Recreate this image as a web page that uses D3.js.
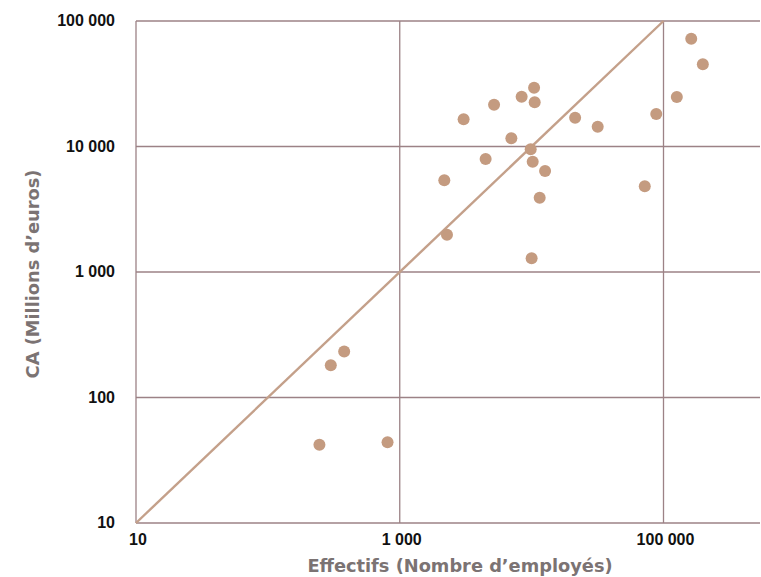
<!DOCTYPE html>
<html>
<head>
<meta charset="utf-8">
<script src="https://cdn.jsdelivr.net/npm/d3@7"></script>
<style>
  html, body { margin: 0; padding: 0; background: #fff; }
  svg { display: block; }
</style>
</head>
<body>
<svg id="chart" width="761" height="577"></svg>
<script>
// Effectifs (employees) and CA (turnover, M€) for each company
const effectifs = [246, 808, 300, 379, 2281, 2177, 3050, 4480, 5190, 7020, 8400, 10440, 10550,
  9840, 10190, 12650, 11510, 10000, 21370, 31700, 72100, 88100, 126200, 162300, 198700];
const chiffreAffaires = [42, 44, 181, 233, 1983, 5380, 16480, 7950, 21530, 11620, 24940, 29420, 22500,
  9500, 7570, 6380, 3910, 1286, 16960, 14380, 4820, 18150, 24790, 72300, 45160];

const xTicks = [10, 1000, 100000];
const yTicks = [10, 100, 1000, 10000, 100000];
const diagonal = [10, 100000];

(function () {
  const svg = d3.select("#chart");
  const plotLeft = 136, plotRight = 760, plotTop = 21, plotBottom = 523;

  const x = d3.scaleLog().domain([10, 100000]).range([plotLeft, 663.5]);
  const y = d3.scaleLog().domain([10, 100000]).range([plotBottom, plotTop]);

  const fmt = v => d3.format(",")(v).replace(/,/g, " ");
  const gridColor = "#9c8286";
  const markColor = "#c49b80";

  // grid
  const g = svg.append("g");
  g.selectAll("line.h").data(yTicks).join("line")
    .attr("x1", plotLeft).attr("x2", plotRight)
    .attr("y1", d => y(d)).attr("y2", d => y(d))
    .attr("stroke", gridColor).attr("stroke-width", 1.3);
  g.selectAll("line.v").data(xTicks).join("line")
    .attr("x1", d => x(d)).attr("x2", d => x(d))
    .attr("y1", plotTop).attr("y2", plotBottom)
    .attr("stroke", gridColor).attr("stroke-width", 1.3);

  // y = x reference line
  svg.append("line")
    .attr("x1", x(diagonal[0])).attr("y1", y(diagonal[0]))
    .attr("x2", x(diagonal[1])).attr("y2", y(diagonal[1]))
    .attr("stroke", "#c4a08a").attr("stroke-width", 2.4);

  // points
  svg.append("g").selectAll("circle")
    .data(effectifs.map((e, i) => [e, chiffreAffaires[i]]))
    .join("circle")
    .attr("cx", d => x(d[0])).attr("cy", d => y(d[1]))
    .attr("r", 6)
    .attr("fill", markColor);

  // tick labels
  const tickFont = "'Liberation Sans', Arial, sans-serif";
  svg.append("g").selectAll("text").data(yTicks).join("text")
    .attr("x", 115).attr("y", d => y(d))
    .attr("dy", "0.33em")
    .attr("text-anchor", "end")
    .attr("font-family", tickFont).attr("font-weight", "bold").attr("font-size", 16)
    .attr("fill", "#111")
    .text(fmt);
  svg.append("g").selectAll("text").data(xTicks).join("text")
    .attr("x", d => x(d) + 2).attr("y", 545)
    .attr("text-anchor", "middle")
    .attr("font-family", tickFont).attr("font-weight", "bold").attr("font-size", 16)
    .attr("fill", "#111")
    .text(fmt);

  // axis titles
  const titleFont = "'DejaVu Sans', Verdana, sans-serif";
  svg.append("text")
    .attr("x", 460).attr("y", 572)
    .attr("text-anchor", "middle")
    .attr("font-family", titleFont).attr("font-weight", "bold").attr("font-size", 17.8)
    .attr("fill", "#7b7373")
    .text("Effectifs (Nombre d’employés)");
  svg.append("text")
    .attr("transform", "translate(39,274) rotate(-90)")
    .attr("text-anchor", "middle")
    .attr("font-family", titleFont).attr("font-weight", "bold").attr("font-size", 17.8)
    .attr("fill", "#7b7373")
    .text("CA (Millions d’euros)");
})();
</script>
</body>
</html>
